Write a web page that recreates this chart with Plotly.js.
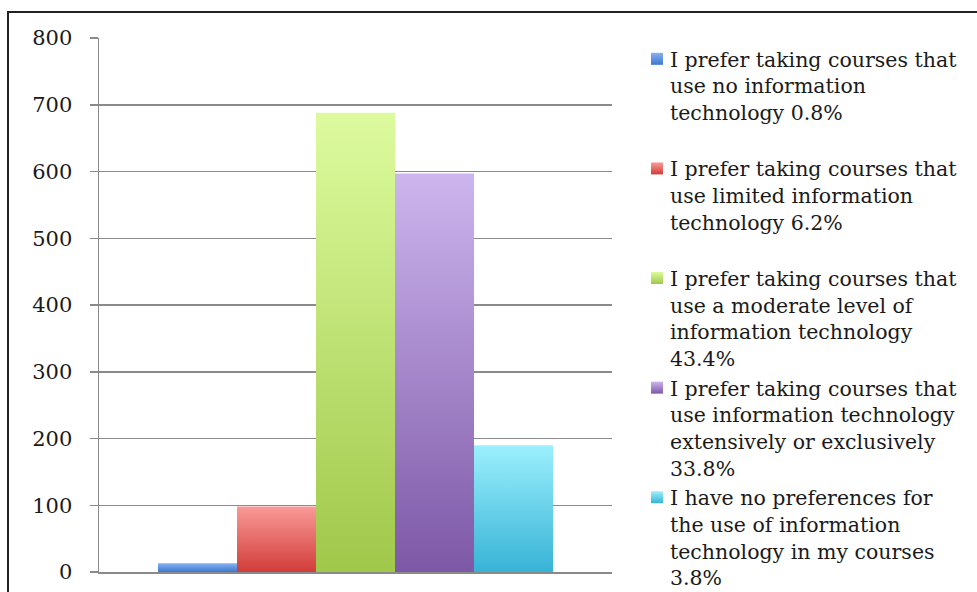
<!DOCTYPE html>
<html>
<head>
<meta charset="utf-8">
<script src="https://cdn.plot.ly/plotly-3.0.1.min.js"></script>
<style>
html,body{margin:0;padding:0;background:#fff;}
#chart{width:977px;height:592px;}
</style>
</head>
<body>
<div id="chart"></div>
<script>
// ---- data ----
var seriesNames = [
  "I prefer taking courses that<br>use no information<br>technology 0.8%<br>&nbsp;",
  "I prefer taking courses that<br>use limited information<br>technology 6.2%<br>&nbsp;",
  "I prefer taking courses that<br>use a moderate level of<br>information technology<br>43.4%",
  "I prefer taking courses that<br>use information technology<br>extensively or exclusively<br>33.8%",
  "I have no preferences for<br>the use of information<br>technology in my courses<br>3.8%"
];
var seriesValues = [13, 98, 688, 597, 190];
var category = [""];
var yTicks = [0, 100, 200, 300, 400, 500, 600, 700, 800];
var midColors = ["#5b8fdc", "#e4615e", "#bcdc6a", "#a184c9", "#66cfe8"];
var topColors = ["#86b2f0", "#f99a98", "#ddfb9e", "#cdb5ee", "#9cf0fd"];
var botColors = ["#3d77d0", "#d13c38", "#a0c84a", "#7d58a6", "#37b3d6"];

var traces = seriesNames.map(function(n, i){
  return {
    type: "bar",
    name: n,
    x: category,
    y: [seriesValues[i]],
    marker: {color: midColors[i], line: {width: 0}},
    hoverinfo: "none"
  };
});

var L = 99, R = 612, T = 38, B = 572, W = 977, H = 592;
function px(x){ return (x - L) / (R - L); }
function py(y){ return (B - y) / (B - T); }

var layout = {
  width: W, height: H,
  margin: {l: L, r: W - R, t: T, b: H - B, pad: 0},
  paper_bgcolor: "#ffffff",
  plot_bgcolor: "#ffffff",
  showlegend: true,
  barmode: "group",
  bargap: 0.23,
  bargroupgap: 0,
  font: {family: "DejaVu Serif", size: 20.5, color: "#1a1a1a"},
  xaxis: {
    type: "category",
    range: [-0.5, 0.5],
    showticklabels: false,
    ticks: "",
    showgrid: false,
    showline: true,
    linecolor: "#8a8a8a",
    linewidth: 1.5,
    zeroline: false,
    fixedrange: true
  },
  yaxis: {
    range: [0, 800],
    tickvals: yTicks,
    ticktext: yTicks.map(String),
    ticks: "outside",
    ticklen: 8,
    tickwidth: 1.5,
    tickcolor: "#8a8a8a",
    showgrid: true,
    gridcolor: "#8a8a8a",
    gridwidth: 1.5,
    showline: true,
    linecolor: "#8a8a8a",
    linewidth: 1.5,
    zeroline: false,
    ticklabelstandoff: 13,
    tickfont: {family: "DejaVu Serif", size: 21, color: "#1a1a1a"},
    fixedrange: true
  },
  legend: {
    x: px(630), xanchor: "left",
    y: py(39), yanchor: "top",
    valign: "top",
    maxheight: 580,
    bgcolor: "rgba(0,0,0,0)",
    borderwidth: 0,
    tracegroupgap: 0,
    itemclick: false,
    font: {family: "DejaVu Serif", size: 20.5, color: "#1a1a1a"}
  },
  shapes: [
    {type: "path", xref: "paper", yref: "paper",
     path: "M" + px(8) + "," + py(600) + " L" + px(8) + "," + py(12) + " L" + px(990) + "," + py(12),
     line: {color: "#222222", width: 2}}
  ]
};

Plotly.newPlot("chart", traces, layout, {staticPlot: true, displayModeBar: false}).then(function(gd){
  var svg = gd.querySelector(".main-svg");
  var ns = "http://www.w3.org/2000/svg";
  var defs = svg.querySelector("defs");
  if(!defs){ defs = document.createElementNS(ns, "defs"); svg.insertBefore(defs, svg.firstChild); }
  for (var i = 0; i < midColors.length; i++){
    var g = document.createElementNS(ns, "linearGradient");
    g.setAttribute("id", "bargrad" + i);
    g.setAttribute("x1", "0"); g.setAttribute("y1", "0");
    g.setAttribute("x2", "0"); g.setAttribute("y2", "1");
    var s1 = document.createElementNS(ns, "stop");
    s1.setAttribute("offset", "0"); s1.setAttribute("stop-color", topColors[i]);
    var s2 = document.createElementNS(ns, "stop");
    s2.setAttribute("offset", "1"); s2.setAttribute("stop-color", botColors[i]);
    g.appendChild(s1); g.appendChild(s2);
    defs.appendChild(g);
  }
  var barTraces = gd.querySelectorAll(".barlayer .trace");
  barTraces.forEach(function(t, i){
    t.querySelectorAll("path").forEach(function(p){ p.style.fill = "url(#bargrad" + i + ")"; });
  });
  var legTraces = gd.querySelectorAll(".legend .traces");
  legTraces.forEach(function(t, i){
    var lp = t.querySelector(".legendpoints");
    if (lp) lp.setAttribute("transform", "translate(7,0)");
    t.querySelectorAll(".legendpoints path").forEach(function(p){ p.style.fill = "url(#bargrad" + i + ")"; p.style.stroke = "none"; });
  });
  // nudge the whole legend down a few pixels to sit like the reference
  var leg = gd.querySelector(".legend");
  if (leg) {
    var tr = leg.getAttribute("transform") || "";
    var m = tr.match(/translate\(\s*([-\d.]+)[ ,]+([-\d.]+)\s*\)/);
    if (m) leg.setAttribute("transform", "translate(" + m[1] + "," + (parseFloat(m[2]) + 5) + ")");
  }
});
</script>
</body>
</html>
